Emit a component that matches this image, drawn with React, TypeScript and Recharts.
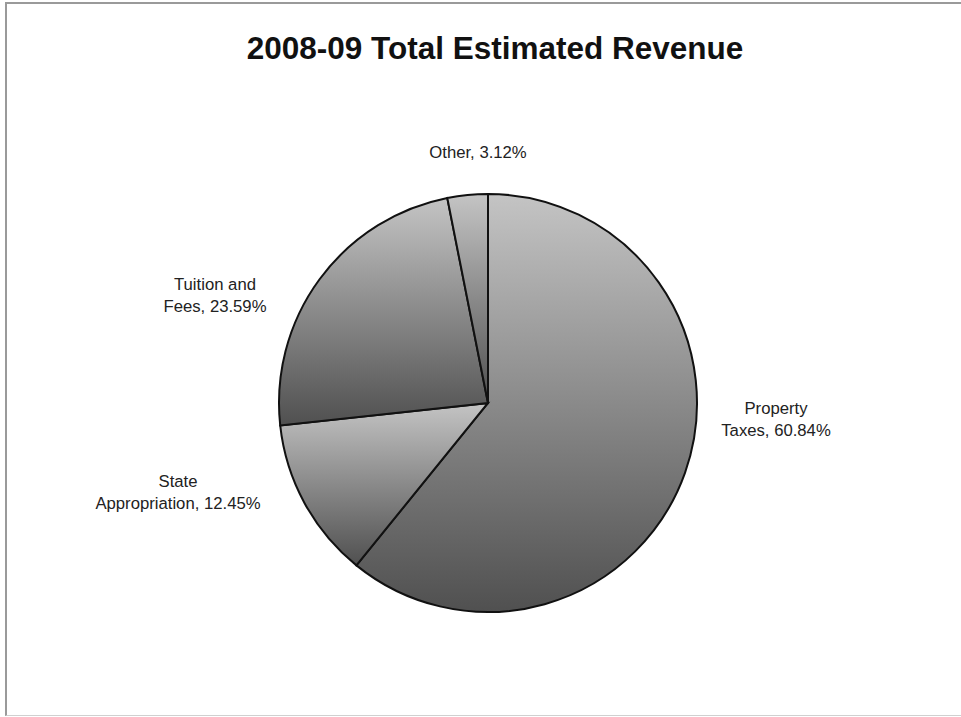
import React from "react";
import { PieChart, Pie, Cell } from "recharts";

const categories = ["Property Taxes", "State Appropriation", "Tuition and Fees", "Other"];
const shares = [60.84, 12.45, 23.59, 3.12];
const title = "2008-09 Total Estimated Revenue";

const data = categories.map((name, i) => ({ name, value: shares[i] }));

// label block centers, relative to the pie center, in px
const labelOffsets: Record<string, [number, number]> = {
  "Property Taxes": [288, 16],
  "State Appropriation": [-310, 89],
  "Tuition and Fees": [-273, -108],
  "Other": [-10, -251],
};

const FONT = "'Liberation Sans', Arial, sans-serif";

const renderLabel = (props: any) => {
  const { cx, cy, name, value } = props;
  const off = labelOffsets[name] || [0, 0];
  const words = String(name).split(" ");
  const pct = `${Number(value).toFixed(2)}%`;
  let lines: string[];
  if (words.length > 1) {
    lines = [words.slice(0, -1).join(" "), `${words[words.length - 1]}, ${pct}`];
  } else {
    lines = [`${name}, ${pct}`];
  }
  const lh = 22;
  const x = cx + off[0];
  const startY = cy + off[1] - ((lines.length - 1) * lh) / 2;
  return (
    <text
      x={x}
      y={startY}
      textAnchor="middle"
      dominantBaseline="central"
      fontFamily={FONT}
      fontSize={16.7}
      fill="#222"
    >
      {lines.map((l, i) => (
        <tspan key={i} x={x} y={startY + i * lh}>
          {l}
        </tspan>
      ))}
    </text>
  );
};

export default function App() {
  return (
    <div
      style={{
        position: "absolute",
        left: 0,
        top: 0,
        width: 961,
        height: 717,
        background: "#fff",
        overflow: "hidden",
      }}
    >
      <div
        style={{
          position: "absolute",
          left: 5,
          top: 2,
          width: 970,
          height: 711,
          borderLeft: "2px solid #9a9a9a",
          borderTop: "2px solid #9a9a9a",
          borderBottom: "1px solid #d0d0d0",
        }}
      />
      <div
        style={{
          position: "absolute",
          left: 0,
          width: 990,
          top: 28,
          textAlign: "center",
          fontFamily: FONT,
          fontWeight: "bold",
          fontSize: 31.5,
          color: "#111",
          lineHeight: "40px",
        }}
      >
        {title}
      </div>
      <div style={{ position: "absolute", left: 0, top: 0 }}>
        <PieChart width={961} height={717} margin={{ top: 0, right: 0, bottom: 0, left: 0 }}>
          <defs>
            <linearGradient id="sliceGrad" x1="0" y1="0" x2="0" y2="1">
              <stop offset="0%" stopColor="#c4c4c4" />
              <stop offset="100%" stopColor="#505050" />
            </linearGradient>
          </defs>
          <Pie
            data={data}
            dataKey="value"
            nameKey="name"
            cx={488}
            cy={403}
            outerRadius={209}
            startAngle={90}
            endAngle={-270}
            stroke="#111"
            strokeWidth={2}
            label={renderLabel}
            labelLine={false}
            isAnimationActive={false}
          >
            {data.map((d) => (
              <Cell key={d.name} fill="url(#sliceGrad)" />
            ))}
          </Pie>
        </PieChart>
      </div>
    </div>
  );
}
